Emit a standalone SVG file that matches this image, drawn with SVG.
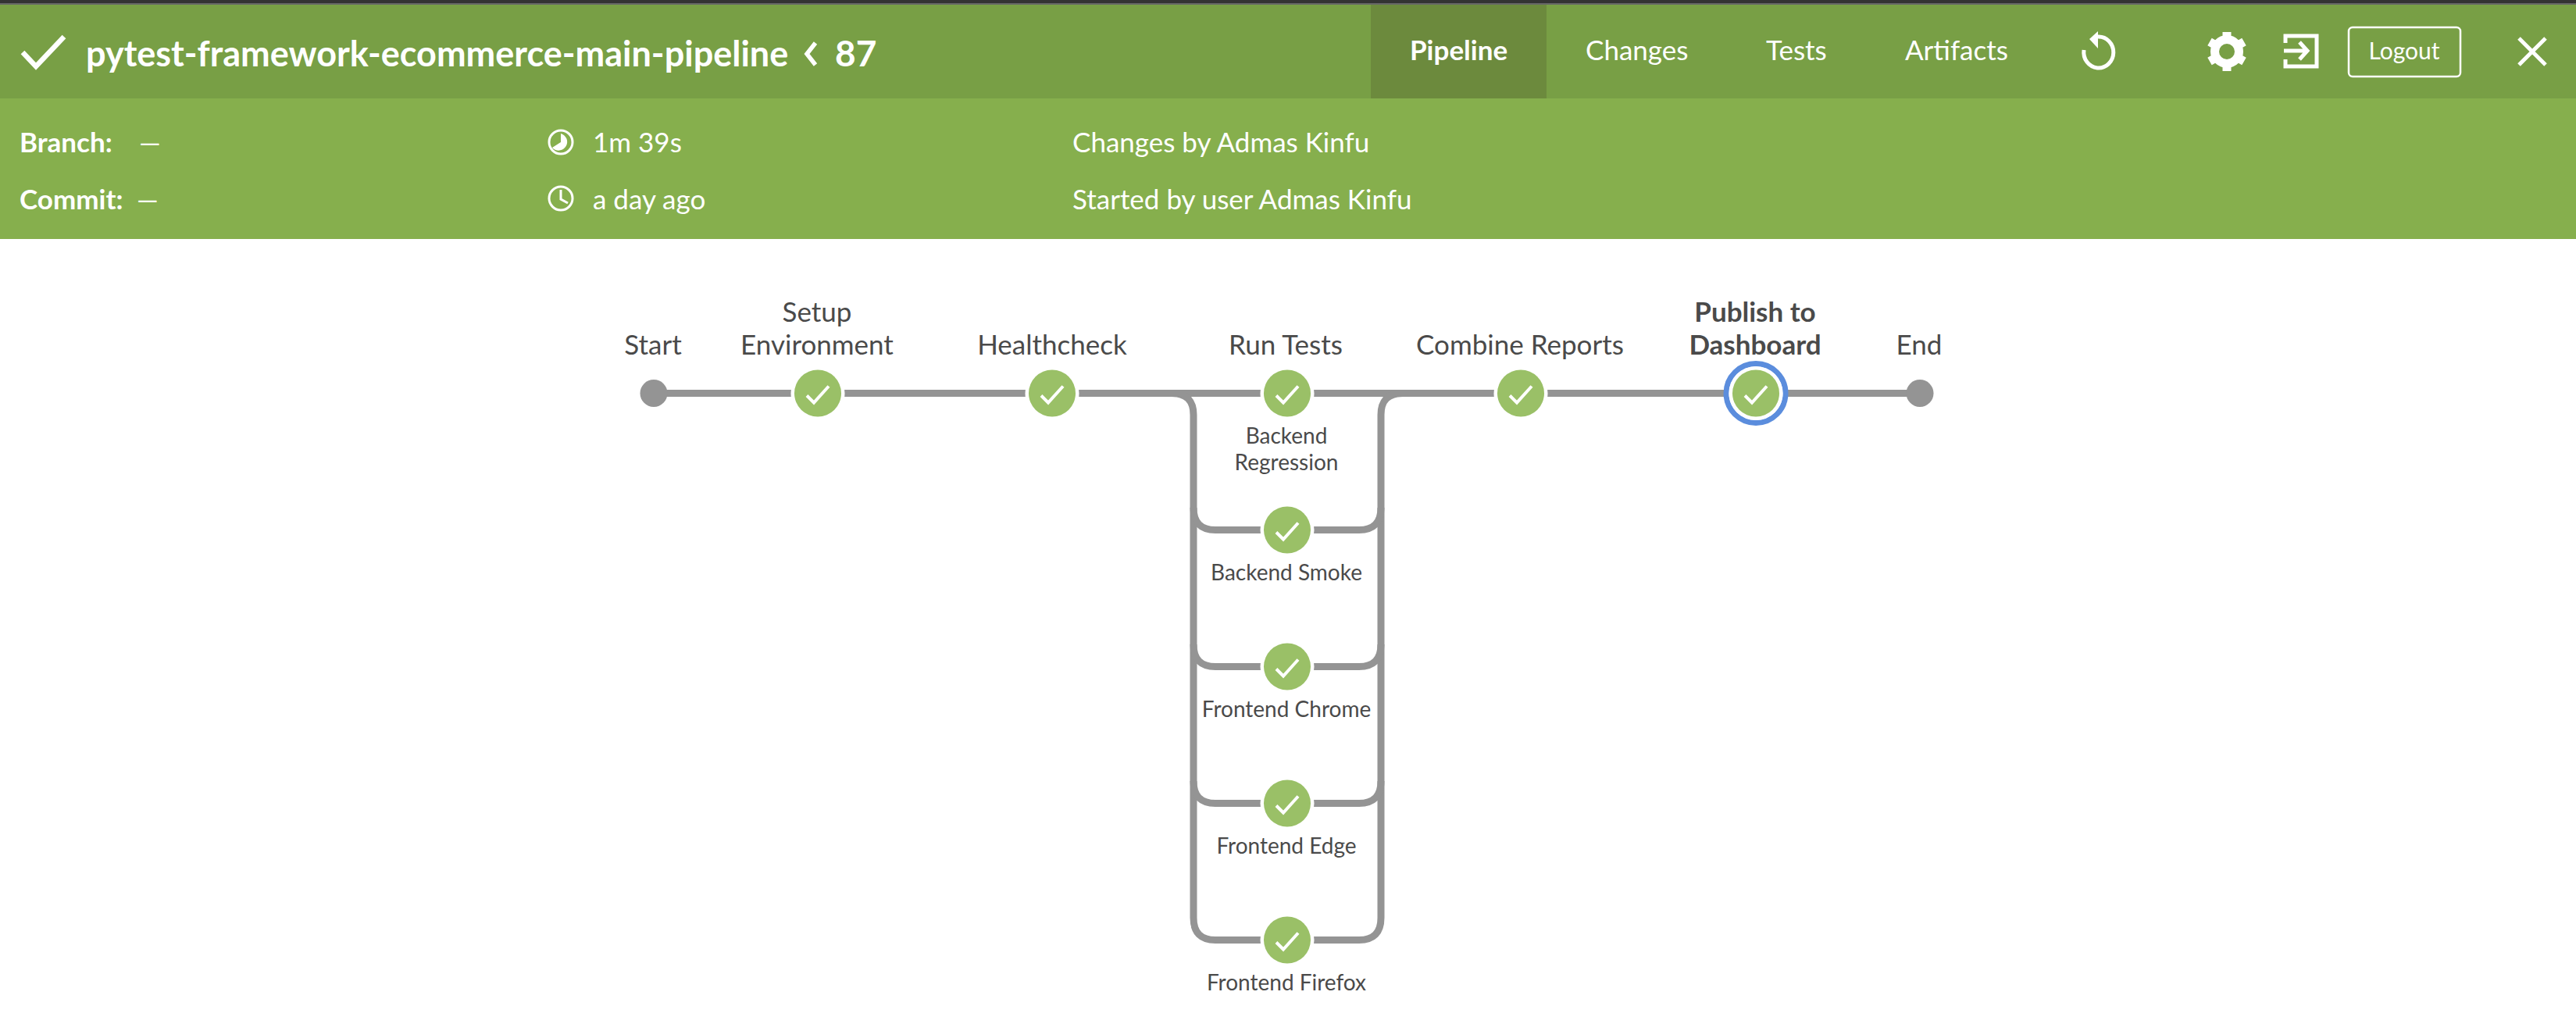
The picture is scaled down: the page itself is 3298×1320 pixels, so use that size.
<svg xmlns="http://www.w3.org/2000/svg" width="3298" height="1320" viewBox="0 0 3298 1320">
<defs>
<style>
text{font-family:Lato,"Liberation Sans",sans-serif}
.hd{fill:#fff}
.lab{fill:#4a4a4a;font-size:35px;text-anchor:middle}
.sub{fill:#4a4a4a;font-size:28px;text-anchor:middle}
.ln{fill:none;stroke:#949494;stroke-width:9}
.ic{fill:none;stroke:#fff}
</style>
<g id="nd">
<circle r="34.5" fill="#fff"/>
<circle r="30" fill="#9ac067"/>
<path d="M-14,3 L-5,12 L14,-9" fill="none" stroke="#fff" stroke-width="4"/>
</g>
</defs>
<rect width="3298" height="1320" fill="#fff"/>
<g id="header">
<rect width="3298" height="4" fill="#333"/>
<rect y="4" width="3298" height="2" fill="#666"/>
<rect y="6" width="3298" height="120" fill="#789f45"/>
<rect y="126" width="3298" height="180" fill="#86af4d"/>
<rect x="1755" y="6" width="225" height="120" fill="#6c8a3d"/>
<path class="ic" stroke-width="6.5" d="M29,67 L46,85 L82,47"/>
<text class="hd" x="110" y="85" font-size="45" font-weight="700">pytest-framework-ecommerce-main-pipeline</text>
<path class="ic" stroke-width="5.5" d="M1044,55 L1033,69 L1044,83"/>
<text class="hd" x="1069" y="85" font-size="46" font-weight="700">87</text>
<text class="hd" x="1805" y="77" font-size="35" font-weight="700">Pipeline</text>
<text class="hd" x="2030" y="77" font-size="35">Changes</text>
<text class="hd" x="2261" y="77" font-size="35">Tests</text>
<text class="hd" x="2439" y="77" font-size="35">Artifacts</text>
<path class="ic" stroke-width="5" d="M2686,47 A19,20 0 1 1 2668,64"/>
<path fill="#fff" d="M2686,40 L2675,50 L2686,62 Z"/>
<g id="gear"><circle class="ic" cx="2851" cy="66" r="15" stroke-width="12"/><path class="ic" stroke-width="11" d="M2851,41 V91 M2829,53.500 L2873,78.500 M2829,78.500 L2873,53.500"/><circle cx="2851" cy="66" r="10" fill="#789f45"/></g>
<path class="ic" stroke-width="5" d="M2926,55 V46 H2966 V85 H2926 V76"/>
<path class="ic" stroke-width="5" d="M2924,65 H2952 M2944,54 L2954,65 L2944,76"/>
<rect class="ic" x="3007" y="35" width="143" height="63" rx="5" stroke-width="2.5"/>
<text class="hd" x="3078" y="76" font-size="30" text-anchor="middle">Logout</text>
<path class="ic" stroke-width="5" d="M3225,49 L3259,83 M3259,49 L3225,83"/>
<text class="hd" x="25" y="195" font-size="35" font-weight="700">Branch:</text>
<text class="hd" x="178" y="195" font-size="35">—</text>
<text class="hd" x="25" y="268" font-size="35" font-weight="700">Commit:</text>
<text class="hd" x="175" y="268" font-size="35">—</text>
<circle class="ic" cx="718" cy="182" r="15" stroke-width="3"/>
<path fill="#fff" d="M718,171 A11,11 0 1 1 707,189 L718,182 Z"/>
<circle class="ic" cx="718" cy="254" r="15" stroke-width="3"/>
<path class="ic" stroke-width="3" d="M718,243 V255 L727,260"/>
<text class="hd" x="759" y="195" font-size="35">1m 39s</text>
<text class="hd" x="759" y="268" font-size="35">a day ago</text>
<text class="hd" x="1373" y="195" font-size="35">Changes by Admas Kinfu</text>
<text class="hd" x="1373" y="268" font-size="35">Started by user Admas Kinfu</text>
</g>
<g id="connectors">
<path class="ln" d="M837,503.500 H2458"/>
<path class="ln" d="M1500,503.500 Q1528,503.500 1528,531 V1175 Q1528,1203.500 1556,1203.500 H1740 Q1768,1203.500 1768,1175 V531 Q1768,503.500 1796,503.500"/>
<path class="ln" d="M1528,650 Q1528,678.500 1556,678.500 H1740 Q1768,678.500 1768,650"/>
<path class="ln" d="M1528,825 Q1528,853.500 1556,853.500 H1740 Q1768,853.500 1768,825"/>
<path class="ln" d="M1528,1000 Q1528,1028.500 1556,1028.500 H1740 Q1768,1028.500 1768,1000"/>
</g>
<g id="n-start"><circle cx="837" cy="503.500" r="17.500" fill="#949494"/><text class="lab" x="836" y="454">Start</text></g>
<g id="n-setup"><use href="#nd" x="1047" y="503.500"/><text class="lab" x="1046" y="412">Setup</text><text class="lab" x="1046" y="454">Environment</text></g>
<g id="n-health"><use href="#nd" x="1347" y="503.500"/><text class="lab" x="1347" y="454">Healthcheck</text></g>
<g id="n-run"><use href="#nd" x="1648" y="503.500"/><text class="lab" x="1646" y="454">Run Tests</text></g>
<g id="n-combine"><use href="#nd" x="1947" y="503.500"/><text class="lab" x="1946" y="454">Combine Reports</text></g>
<g id="n-publish"><circle cx="2248" cy="503.500" r="38" fill="#fff" stroke="#5b8ddd" stroke-width="7"/><use href="#nd" x="2248" y="503.500"/><text class="lab" x="2247" y="412" font-weight="700">Publish to</text><text class="lab" x="2247" y="454" font-weight="700">Dashboard</text></g>
<g id="n-end"><circle cx="2458" cy="503.500" r="17.500" fill="#949494"/><text class="lab" x="2457" y="454">End</text></g>
<g id="n-regression"><text class="sub" x="1647" y="568">Backend</text><text class="sub" x="1647" y="602">Regression</text></g>
<g id="n-smoke"><use href="#nd" x="1648" y="678.500"/><text class="sub" x="1647" y="743">Backend Smoke</text></g>
<g id="n-chrome"><use href="#nd" x="1648" y="853.500"/><text class="sub" x="1647" y="918">Frontend Chrome</text></g>
<g id="n-edge"><use href="#nd" x="1648" y="1028.500"/><text class="sub" x="1647" y="1093">Frontend Edge</text></g>
<g id="n-firefox"><use href="#nd" x="1648" y="1203.500"/><text class="sub" x="1647" y="1268">Frontend Firefox</text></g>
</svg>
